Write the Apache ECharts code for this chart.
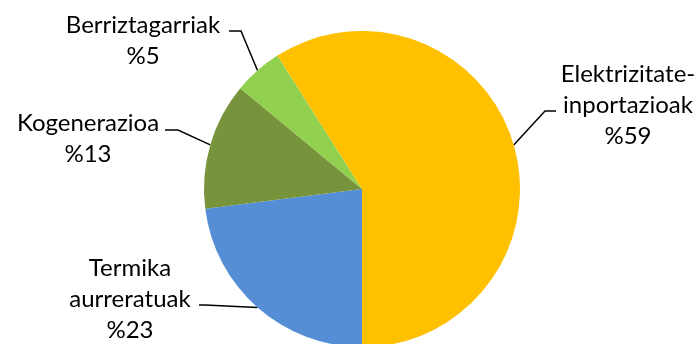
<!DOCTYPE html>
<html><head><meta charset="utf-8">
<script src="https://cdn.jsdelivr.net/npm/echarts@6/dist/echarts.min.js"></script>
<style>html,body{margin:0;padding:0;background:#fff}#c{width:700px;height:344px}</style>
</head><body><div id="c"></div>
<script>
const categories = ['Termika aurreratuak', 'Kogenerazioa', 'Berriztagarriak', 'Elektrizitate-inportazioak'];
const values = [23, 13, 5, 59];
const colors = ['#558ED5', '#77933C', '#92D050', '#FFC000'];
// label layout: text block center, elbow point, line end (near label)
const labelPos = [
  {x: 130, y: 299, elbow: [205, 305], end: [199, 305]},
  {x: 88, y: 139, elbow: [178, 130], end: [165, 130]},
  {x: 143, y: 41, elbow: [241, 31], end: [229, 31]},
  {x: 628, y: 105, elbow: [545, 111], end: [556, 111]}
];
const chart = echarts.init(document.getElementById('c'));
chart.setOption({
  animation: false,
  series: [{
    type: 'pie',
    center: [362, 189],
    radius: 158,
    startAngle: 270,
    clockwise: true,
    data: categories.map((n, i) => ({name: n, value: values[i], itemStyle: {color: colors[i]}})),
    label: {
      show: true,
      position: 'outside',
      formatter: p => p.name.replace('-', '-\n').replace(' ', '\n') + '\n%' + p.value,
      fontFamily: 'Lato',
      fontSize: 24,
      lineHeight: 31,
      color: '#000',
      align: 'center'
    },
    labelLine: {show: true, lineStyle: {color: '#000', width: 1.5}, length: 10, length2: 10},
    itemStyle: {borderWidth: 0},
    emphasis: {disabled: true},
    labelLayout: function (p) {
      const L = labelPos[p.dataIndex];
      const pts = p.labelLinePoints;
      return {
        x: L.x, y: L.y, align: 'center', verticalAlign: 'middle',
        labelLinePoints: [pts[0], L.elbow, L.end]
      };
    }
  }]
});
</script></body></html>
